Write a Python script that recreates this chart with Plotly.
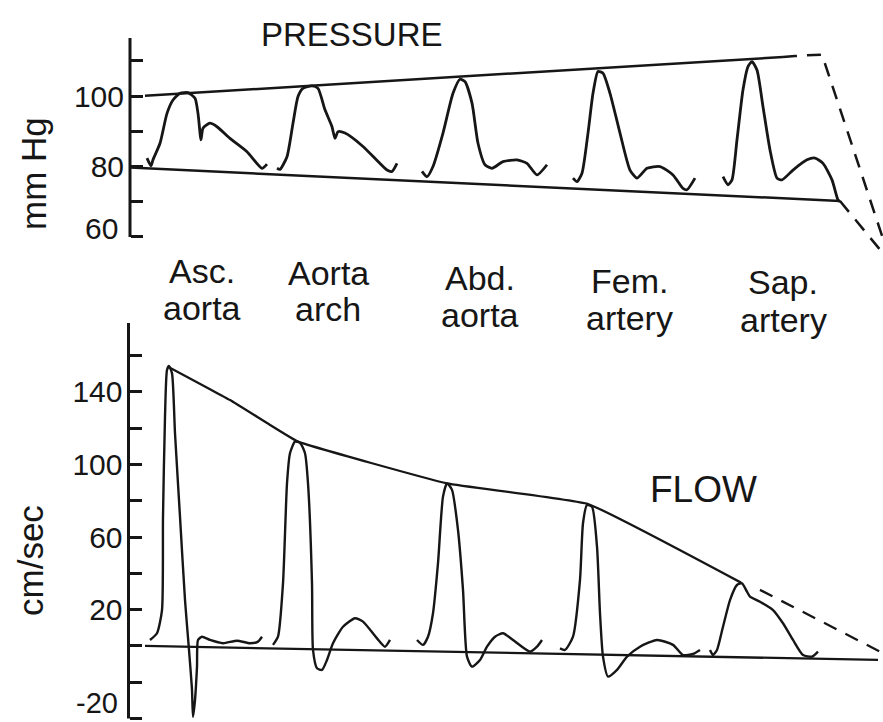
import plotly.graph_objects as go

W, H = 883, 722
FONT = "Liberation Sans, Arial, Helvetica, sans-serif"
INK = "#161616"

# ---------------- data (time in arbitrary units, pressure mmHg, velocity cm/sec) -------------
SITE_LINE1 = ["Asc.", "Aorta", "Abd.", "Fem.", "Sap."]
SITE_LINE2 = ["aorta", "arch", "aorta", "artery", "artery"]

# Pressure pulses
P1_T = [17, 21, 23, 30, 37, 43, 50, 58, 65, 68, 71, 73, 80, 87, 100, 117, 132, 137]
P1_V = [82.4, 80.2, 81.9, 86.6, 95.1, 98.9, 100.8, 101.0, 99.4, 95.1, 87.6, 90.9, 92.3, 91.3, 88.0, 84.2, 79.5, 80.7]
P2_T = [147, 150, 157, 163, 168, 173, 182, 188, 195, 202, 205, 208, 215, 233, 257, 262, 267]
P2_V = [79.5, 79.2, 82.8, 92.3, 99.9, 102.2, 102.9, 102.2, 96.1, 91.3, 88.0, 89.9, 89.5, 85.7, 79.0, 78.6, 80.9]
P3_T = [292, 297, 303, 313, 323, 330, 335, 342, 348, 355, 362, 373, 387, 397, 407, 417]
P3_V = [78.6, 77.1, 80.0, 89.5, 100.8, 104.8, 104.1, 98.0, 86.6, 80.5, 79.5, 81.4, 81.9, 80.9, 77.6, 80.5]
P4_T = [443, 447, 452, 458, 463, 468, 473, 480, 490, 500, 507, 517, 530, 543, 553, 557, 565]
P4_V = [76.7, 75.7, 78.1, 89.5, 100.8, 107.0, 106.5, 100.8, 89.5, 79.0, 76.7, 79.5, 80.0, 77.6, 73.8, 73.4, 76.7]
P5_T = [593, 598, 602, 607, 613, 618, 622, 627, 633, 640, 647, 652, 663, 677, 685, 693, 702, 708, 710]
P5_V = [77.1, 74.8, 76.2, 87.6, 101.8, 108.4, 109.8, 107.4, 97.0, 84.7, 76.7, 76.2, 79.0, 81.9, 82.4, 80.9, 76.2, 70.5, 70.0]

# Pressure envelopes
P_SYS_T = [15, 653]
P_SYS_V = [100.1, 111.1]
P_SYS_EXT_T = [653, 665, 692, 760]
P_SYS_EXT_V = [111.1, 111.4, 111.8, 53.5]
P_DIA_T = [0, 710]
P_DIA_V = [79.7, 70.2]
P_DIA_EXT_T = [710, 756]
P_DIA_EXT_V = [70.2, 54.3]

# Flow pulses
F1_T = [20, 27, 32, 33, 35, 37, 39, 42, 45, 50, 55, 59, 62, 63, 65, 67, 68, 72, 80, 93, 107, 120, 128, 132]
F1_V = [3.3, 7.0, 19.8, 71.2, 126.3, 152.1, 154.3, 150.2, 117.2, 71.2, 25.3, -2.2, -24.2, -39.0, -29.8, -11.4, 3.3, 5.1, 3.3, 1.5, 2.9, 1.5, 2.4, 5.1]
F2_T = [143, 148, 153, 157, 160, 165, 170, 175, 178, 182, 183, 187, 192, 197, 203, 213, 225, 233, 247, 255, 260]
F2_V = [0.6, 5.1, 34.5, 89.6, 106.2, 112.6, 112.0, 106.2, 89.6, 34.5, -2.2, -12.3, -13.2, -7.7, 1.5, 10.6, 15.3, 13.4, 4.2, -0.4, 3.3]
F3_T = [287, 293, 298, 303, 308, 313, 317, 322, 328, 333, 337, 342, 350, 357, 365, 373, 383, 400, 407, 412]
F3_V = [3.3, 0.6, 5.1, 18.0, 45.6, 82.3, 89.6, 86.0, 63.9, 30.9, -5.9, -11.4, -7.7, -0.4, 5.1, 7.0, 3.3, -3.1, -0.4, 3.3]
F4_T = [430, 435, 443, 450, 453, 457, 462, 467, 470, 473, 478, 487, 497, 510, 527, 543, 553, 563, 570]
F4_V = [-1.3, -2.2, 5.1, 36.4, 67.6, 77.7, 76.7, 54.7, 18.0, -5.9, -16.9, -13.2, -5.9, -0.4, 3.3, 0.6, -5.0, -4.4, -2.2]
F5_T = [580, 583, 587, 593, 600, 607, 612, 617, 620, 630, 643, 653, 663, 673, 682, 688]
F5_V = [-2.2, -5.0, -2.2, 10.6, 25.3, 33.6, 34.5, 29.9, 27.2, 24.4, 19.8, 12.5, 3.3, -5.0, -5.9, -3.1]

# Flow envelope and baseline
F_PEAK_T = [38, 100, 140, 168, 317, 458, 611]
F_PEAK_V = [153.9, 135.5, 121.8, 112.6, 89.6, 78.2, 34.9]
F_EXT_T = [630, 750]
F_EXT_V = [30.9, -3.1]
F_BASE_T = [15, 748]
F_BASE_V = [0.0, -7.7]

# Axis ticks
P_TICKS = [60, 70, 80, 90, 100, 110]
P_TICKTEXT = ["", "", "80", "", "100", ""]
P_LOW_LABEL = "60"
P_AXIS_SPAN = [60, 116.5]
F_TICKS = [-40, -20, 0, 20, 40, 60, 80, 100, 120, 140, 160]
F_TICKTEXT = ["", "", "", "20", "", "60", "", "100", "", "140", ""]
F_LOW_LABEL = "-20"
F_AXIS_SPAN = [-40, 178]

# ---------------- figure -------------
AX_X = 130      # pixel where the vertical axes sit
X_LEFT = 100    # pixel where the plotting area starts
def px(x):
    return x / W
def py(y):
    return 1 - y / H

fig = go.Figure()

pressure_pulses = [(P1_T, P1_V), (P2_T, P2_V), (P3_T, P3_V), (P4_T, P4_V), (P5_T, P5_V)]
flow_pulses = [(F1_T, F1_V), (F2_T, F2_V), (F3_T, F3_V), (F4_T, F4_V), (F5_T, F5_V)]

solid = dict(color=INK, width=2.8, shape="spline", smoothing=0.6)
for t, v in pressure_pulses:
    fig.add_trace(go.Scatter(x=t, y=v, mode="lines", line=solid, xaxis="x", yaxis="y",
                             hoverinfo="skip", showlegend=False))
for t, v in flow_pulses:
    fig.add_trace(go.Scatter(x=t, y=v, mode="lines", line=dict(solid, width=2.4), xaxis="x2", yaxis="y2",
                             hoverinfo="skip", showlegend=False))

straight = dict(color=INK, width=2.5)
dashed = dict(color=INK, width=2.5, dash="14px,10px")
fig.add_trace(go.Scatter(x=P_SYS_T, y=P_SYS_V, mode="lines", line=straight, xaxis="x", yaxis="y", showlegend=False, hoverinfo="skip"))
fig.add_trace(go.Scatter(x=P_SYS_EXT_T, y=P_SYS_EXT_V, mode="lines", line=dashed, xaxis="x", yaxis="y", showlegend=False, hoverinfo="skip"))
fig.add_trace(go.Scatter(x=P_DIA_T, y=P_DIA_V, mode="lines", line=straight, xaxis="x", yaxis="y", showlegend=False, hoverinfo="skip"))
fig.add_trace(go.Scatter(x=P_DIA_EXT_T, y=P_DIA_EXT_V, mode="lines", line=dashed, xaxis="x", yaxis="y", showlegend=False, hoverinfo="skip"))

fig.add_trace(go.Scatter(x=F_PEAK_T, y=F_PEAK_V, mode="lines", line=dict(straight, width=2.3, shape="spline", smoothing=0.3), xaxis="x2", yaxis="y2", showlegend=False, hoverinfo="skip"))
fig.add_trace(go.Scatter(x=F_EXT_T, y=F_EXT_V, mode="lines", line=dict(dashed, width=2.3), xaxis="x2", yaxis="y2", showlegend=False, hoverinfo="skip"))
fig.add_trace(go.Scatter(x=F_BASE_T, y=F_BASE_V, mode="lines", line=dict(straight, width=2.3), xaxis="x2", yaxis="y2", showlegend=False, hoverinfo="skip"))

# vertical axis lines spanning only part of each range
fig.add_trace(go.Scatter(x=[0, 0], y=P_AXIS_SPAN, mode="lines", line=dict(color=INK, width=3),
                         xaxis="x", yaxis="y", showlegend=False, hoverinfo="skip"))
fig.add_trace(go.Scatter(x=[-1.5, -1.5], y=F_AXIS_SPAN, mode="lines", line=dict(color=INK, width=3),
                         xaxis="x2", yaxis="y2", showlegend=False, hoverinfo="skip"))

x_dom = [X_LEFT / W, 1]
x_rng = [X_LEFT - AX_X, W - AX_X]
axis_font = dict(family=FONT, size=30, color=INK)
common_y = dict(showline=False, showgrid=False, zeroline=False, tickmode="array",
                ticks="inside", ticklen=12, tickwidth=2.6, tickcolor=INK,
                ticklabelstandoff=6, tickfont=axis_font, anchor="free")
fig.update_layout(
    width=W, height=H,
    margin=dict(l=0, r=0, t=0, b=0),
    paper_bgcolor="white", plot_bgcolor="white",
    showlegend=False,
    xaxis=dict(domain=x_dom, range=x_rng, visible=False, anchor="y"),
    xaxis2=dict(domain=x_dom, range=x_rng, visible=False, anchor="y2"),
    yaxis=dict(common_y, domain=[py(251), py(31.7)], range=[56.0, 118.3], position=px(AX_X),
               tickvals=P_TICKS, ticktext=P_TICKTEXT),
    yaxis2=dict(common_y, domain=[0, py(319.3)], range=[-41.9, 180.0], position=px(AX_X - 1.5),
                tickvals=F_TICKS, ticktext=F_TICKTEXT),
)

ann = []
def text(s, x, y, size, angle=0, xanchor="center", yanchor="middle"):
    ann.append(dict(text=s, x=px(x), y=py(y), xref="paper", yref="paper", showarrow=False,
                    xanchor=xanchor, yanchor=yanchor, textangle=angle,
                    font=dict(family=FONT, size=size, color=INK)))

text("PRESSURE", 352, 35, 33)
text("FLOW", 703, 490, 37)
text("mm Hg", 33, 174, 35, -90)
text("cm/sec", 30, 560, 35, -90)
text(P_LOW_LABEL, 120, 228, 30, xanchor="right")
text(F_LOW_LABEL, 120, 721, 29, xanchor="right", yanchor="bottom")

label_x = [202, 328, 480, 629, 783]
label_y1 = [271, 273, 278, 281, 282]
label_y2 = [308, 309, 315, 318, 320]
for s1, s2, x, y1, y2 in zip(SITE_LINE1, SITE_LINE2, label_x, label_y1, label_y2):
    text(s1, x, y1, 34)
    text(s2, x, y2, 34)

fig.update_layout(annotations=ann)
fig.write_html("out.html")
